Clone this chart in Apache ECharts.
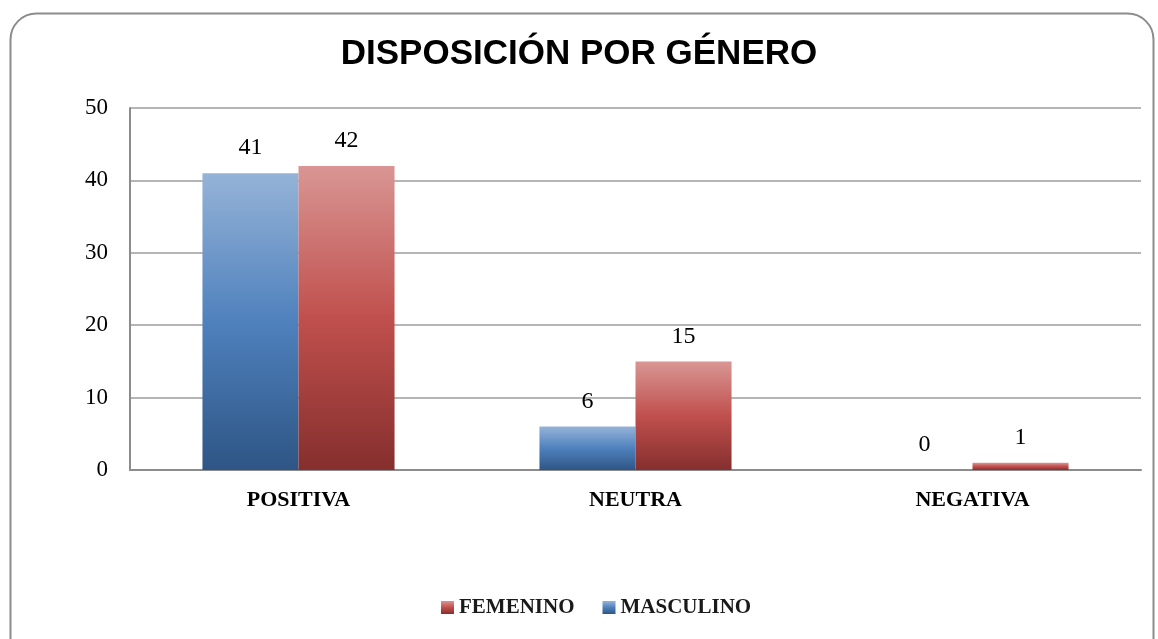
<!DOCTYPE html>
<html>
<head>
<meta charset="utf-8">
<script src="https://cdn.jsdelivr.net/npm/echarts@6/dist/echarts.min.js"></script>
<style>
  html, body { margin: 0; padding: 0; background: #fff; }
  #chart { width: 1158px; height: 639px; }
</style>
</head>
<body>
<div id="chart"></div>
<script>
  // datos del gráfico
  var categorias = ['POSITIVA', 'NEUTRA', 'NEGATIVA'];
  var masculino = [41, 6, 0];
  var femenino = [42, 15, 1];
  var leyenda = ['FEMENINO', 'MASCULINO'];

  function degradado(arriba, medio, abajo) {
    return new echarts.graphic.LinearGradient(0, 0, 0, 1, [
      {offset: 0, color: arriba},
      {offset: 0.5, color: medio},
      {offset: 1, color: abajo}
    ]);
  }

  var serif = 'Liberation Serif';
  var etiqueta = {show: true, position: 'top', distance: 13, fontFamily: serif, fontSize: 24, color: '#000'};
  var myChart = echarts.init(document.getElementById('chart'));
  var option = {
    animation: false,
    graphic: [{
      type: 'rect',
      left: 8, top: 11,
      shape: {width: 1143, height: 700, r: 26},
      style: {fill: 'none', stroke: '#8c8c8c', lineWidth: 2},
      z: -1
    }],
    title: {
      text: 'DISPOSICIÓN POR GÉNERO',
      left: 'center',
      top: 32,
      textStyle: {fontFamily: 'Liberation Sans', fontWeight: 'bold', fontSize: 35, color: '#000'}
    },
    legend: {
      data: leyenda,
      bottom: 16,
      left: 436,
      itemWidth: 13,
      itemHeight: 13,
      itemGap: 28,
      icon: 'rect',
      textStyle: {fontFamily: serif, fontWeight: 'bold', fontSize: 21, color: '#1a1a1a'}
    },
    grid: {left: 130, right: 17, top: 108, bottom: 169},
    xAxis: {
      type: 'category',
      data: categorias,
      axisLine: {lineStyle: {color: '#8c8c8c', width: 2}},
      axisTick: {show: false},
      axisLabel: {fontFamily: serif, fontWeight: 'bold', fontSize: 22, color: '#000', margin: 19}
    },
    yAxis: {
      type: 'value',
      min: 0, max: 50, interval: 10,
      axisLine: {show: true, lineStyle: {color: '#8c8c8c', width: 2}},
      axisTick: {show: false},
      splitLine: {lineStyle: {color: '#b5b5b5', width: 2}},
      axisLabel: {fontFamily: serif, fontSize: 23, color: '#000', margin: 22}
    },
    series: [{
      name: 'MASCULINO',
      type: 'bar',
      data: masculino,
      barGap: '0%',
      barCategoryGap: '43%',
      itemStyle: {color: degradado('#95b3d7', '#4f81bd', '#2e5585')},
      label: etiqueta
    }, {
      name: 'FEMENINO',
      type: 'bar',
      data: femenino,
      itemStyle: {color: degradado('#d99694', '#c0504d', '#852f2e')},
      label: etiqueta
    }]
  };
  myChart.setOption(option);
</script>
</body>
</html>
